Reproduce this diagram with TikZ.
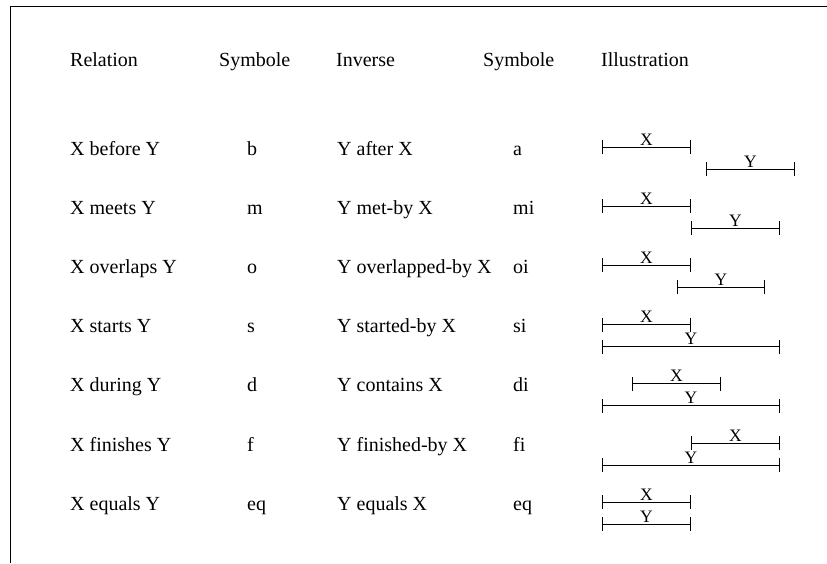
\documentclass[tikz,border=0pt]{standalone}
\usepackage{fontspec}
\setmainfont{Liberation Serif}
\usetikzlibrary{arrows.meta}

\begin{document}
\begin{tikzpicture}[x=1pt, y=-1pt,
  txt/.style={anchor=base west, inner sep=0pt, font=\fontsize{20}{24}\selectfont},
  ival/.style={line width=0.8pt, {Bar[width=14pt]}-{Bar[width=14pt]}},
  lbl/.style={anchor=base, inner sep=0pt, yshift=2pt, font=\fontsize{17.5}{20}\selectfont}]
  \useasboundingbox (0,0) rectangle (827,563);
  % frame
  \draw[line width=1.1pt] (10.7,563) |- (827,6.5);

  % header
  \node[txt] (hrel)  at (70,66)  {Relation};
  \node[txt] (hsym)  at (219,66) {Symbole};
  \node[txt] (hinv)  at (336,66) {Inverse};
  \node[txt] (hisym) at (483,66) {Symbole};
  \node[txt] (hill)  at (601,66) {Illustration};

  % table rows
  \foreach \rel/\sym/\inv/\isym [count=\i] in {X before Y/b/Y after X/a,
      X meets Y/m/Y met-by X/mi, X overlaps Y/o/Y overlapped-by X/oi,
      X starts Y/s/Y started-by X/si, X during Y/d/Y contains X/di,
      X finishes Y/f/Y finished-by X/fi, X equals Y/eq/Y equals X/eq}{
    \pgfmathsetmacro{\yy}{155+59.2*(\i-1)}
    \node[txt] (rel\i)  at (70,\yy)  {\rel};
    \node[txt] (sym\i)  at (247,\yy) {\sym};
    \node[txt] (inv\i)  at (337,\yy) {\inv};
    \node[txt] (isym\i) at (513,\yy) {\isym};
  }

  % illustrations
  \foreach \xa/\xb/\ya/\yb [count=\i] in {602/691/706/795, 602/691/691/780,
      602/691/677/765, 602/691/602/780, 632/721/602/780,
      691/780/602/780, 602/691/602/691}{
    \pgfmathsetmacro{\yy}{155+59.2*(\i-1)}
    \coordinate (xs\i) at (\xa,\yy-8);
    \coordinate (xe\i) at (\xb,\yy-8);
    \coordinate (ys\i) at (\ya,\yy+14);
    \coordinate (ye\i) at (\yb,\yy+14);
    \draw[ival] (xs\i) -- node[lbl] (xl\i) {X} (xe\i);
    \draw[ival] (ys\i) -- node[lbl] (yl\i) {Y} (ye\i);
  }
\end{tikzpicture}
\end{document}
